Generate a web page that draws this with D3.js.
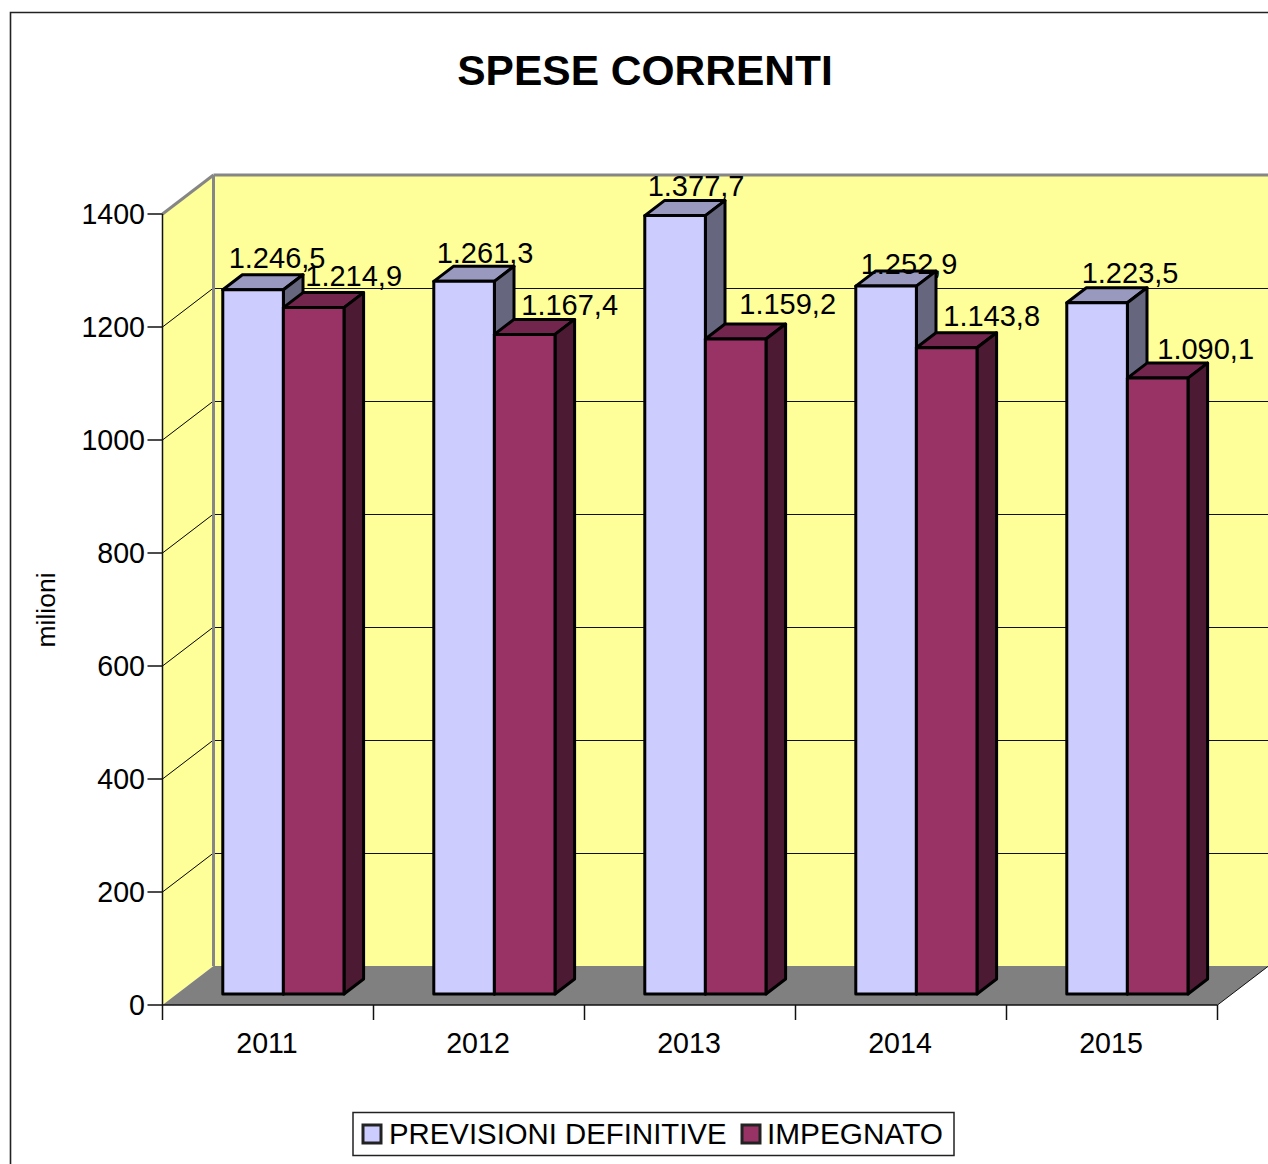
<!DOCTYPE html>
<html><head><meta charset="utf-8">
<script src="https://cdn.jsdelivr.net/npm/d3@7/dist/d3.min.js"></script>
<style>html,body{margin:0;padding:0;background:#fff;overflow:hidden}svg{display:block}text{font-family:"Liberation Sans",Arial,sans-serif;fill:#000}</style>
</head><body><svg id="c" width="1268" height="1164"></svg>
<script>
const categories = ["2011","2012","2013","2014","2015"];
const seriesNames = ["PREVISIONI DEFINITIVE","IMPEGNATO"];
const previsioni = [1246.5,1261.3,1377.7,1252.9,1223.5];
const impegnato = [1214.9,1167.4,1159.2,1143.8,1090.1];
const yTicks = [0,200,400,600,800,1000,1200,1400];
const chartTitle = "SPESE CORRENTI";
const yTitle = "milioni";

// layout & style (not data)
const fills = [
  {front:"#CCCCFF",top:"#9999BF",side:"#66667F"},
  {front:"#993366",top:"#73264D",side:"#4D1A33"}
];
// hand-placed label nudges from the automatic position, per series, per category
const nudges = [
  [[3,-22],[0,-18],[0,-20],[2,-12],[12,-20]],
  [[19,-22],[24,-19],[31,-25],[24,-22],[27,-19]]
];
const svg = d3.select("#c");
const depth = {dx:51, dy:-39};
const y = d3.scaleLinear().domain([0,1400]).range([1005,214]);
const x = d3.scaleBand().domain(categories).range([162.5,1217.5]);
const barW = 60.6, pad = (x.bandwidth()-2*barW)/2+1;
const z0 = 11/39, z1 = 26/39;
const P = (px,v,z)=>[px+depth.dx*z, y(v)+depth.dy*z];
const poly = (pts,fill,stroke,sw)=>svg.append("polygon")
  .attr("points",pts.map(p=>p.join(",")).join(" "))
  .attr("fill",fill).attr("stroke",stroke||"none").attr("stroke-width",sw||0).attr("stroke-linejoin","round");
const line = (a,b,stroke,sw)=>svg.append("line").attr("x1",a[0]).attr("y1",a[1]).attr("x2",b[0]).attr("y2",b[1]).attr("stroke",stroke).attr("stroke-width",sw);

// frame
svg.append("path").attr("d","M10.5,1164V12.5H1268").attr("fill","none").attr("stroke","#222").attr("stroke-width",1.6);

const [L,R] = x.range();
const yMax = 1400;
// walls
poly([P(L,0,1),P(R,0,1),P(R,yMax,1),P(L,yMax,1)],"#FFFF99");
poly([P(L,0,0),P(L,0,1),P(L,yMax,1),P(L,yMax,0)],"#FFFF99");
// floor
poly([P(L,0,0),P(R,0,0),P(R,0,1),P(L,0,1)],"#808080");
// gridlines
yTicks.slice(1,-1).forEach(t=>{
  line(P(L,t,0),P(L,t,1),"#000",1);
  const [gx,gy]=P(L,t,1);
  line([gx,Math.round(gy)+0.5],[R+depth.dx,Math.round(gy)+0.5],"#111",1);
});
// wall outline
line(P(L,yMax,0),P(L,yMax,1),"#868686",3);
line(P(L,yMax,1),P(R,yMax,1),"#868686",3);
line(P(L,0,1),P(L,yMax,1),"#868686",3);
// axes
line([L,y(0)],[L,y(yMax)],"#111",1.5);
line([L,y(0)],[R,y(0)],"#111",1.5);
line(P(R,0,0),P(R,0,1),"#111",1);
yTicks.forEach(t=>{
  line([L-15,y(t)],[L,y(t)],"#111",1.5);
  svg.append("text").attr("x",L-17.5).attr("y",y(t)+10).attr("text-anchor","end").attr("font-size",28.6).text(t);
});
categories.concat(["end"]).forEach((c,i)=>{
  const px = L+i*x.bandwidth();
  line([px,y(0)],[px,1020],"#111",1.5);
});
categories.forEach(c=>{
  svg.append("text").attr("x",x(c)+x.bandwidth()/2-1).attr("y",1053).attr("text-anchor","middle").attr("font-size",28.6).text(c);
});
// y title
svg.append("text").attr("transform","translate(55,610) rotate(-90)").attr("text-anchor","middle").attr("font-size",26.5).text(yTitle);
// title
svg.append("text").attr("x",645).attr("y",85).attr("text-anchor","middle").attr("font-size",42.5).attr("font-weight","bold").text(chartTitle);

// bars
const values = [previsioni,impegnato];
categories.forEach((c,i)=>{
  values.forEach((vals,s)=>{
    const xl = x(c)+pad+s*barW, xr = xl+barW, v = vals[i], f = fills[s];
    poly([P(xl,v,z0),P(xr,v,z0),P(xr,v,z1),P(xl,v,z1)],f.top,"#000",3);
    poly([P(xr,0,z0),P(xr,0,z1),P(xr,v,z1),P(xr,v,z0)],f.side,"#000",3);
    poly([P(xl,0,z0),P(xr,0,z0),P(xr,v,z0),P(xl,v,z0)],f.front,"#000",3);
  });
});
// labels
const fmt = v=>{const [a,b]=v.toFixed(1).split(".");return a.slice(0,-3)+"."+a.slice(-3)+","+b;};
categories.forEach((c,i)=>{
  values.forEach((vals,s)=>{
    const xl = x(c)+pad+s*barW, [ax,ay] = P(xl+barW/2+21,vals[i],z0), n = nudges[s][i];
    svg.append("text").attr("x",ax+n[0]).attr("y",ay+n[1]).attr("text-anchor","middle").attr("font-size",29).text(fmt(vals[i]));
  });
});
// legend
svg.append("rect").attr("x",353).attr("y",1112.5).attr("width",601).attr("height",43).attr("fill","#fff").attr("stroke","#222").attr("stroke-width",1.5);
[[363,389,29.35],[742,767,29.8]].forEach((p,i)=>{
  svg.append("rect").attr("x",p[0]).attr("y",1125).attr("width",18).attr("height",18).attr("fill",fills[i].front).attr("stroke","#222").attr("stroke-width",3);
  svg.append("text").attr("x",p[1]).attr("y",1144).attr("font-size",p[2]).text(seriesNames[i]);
});
</script></body></html>
